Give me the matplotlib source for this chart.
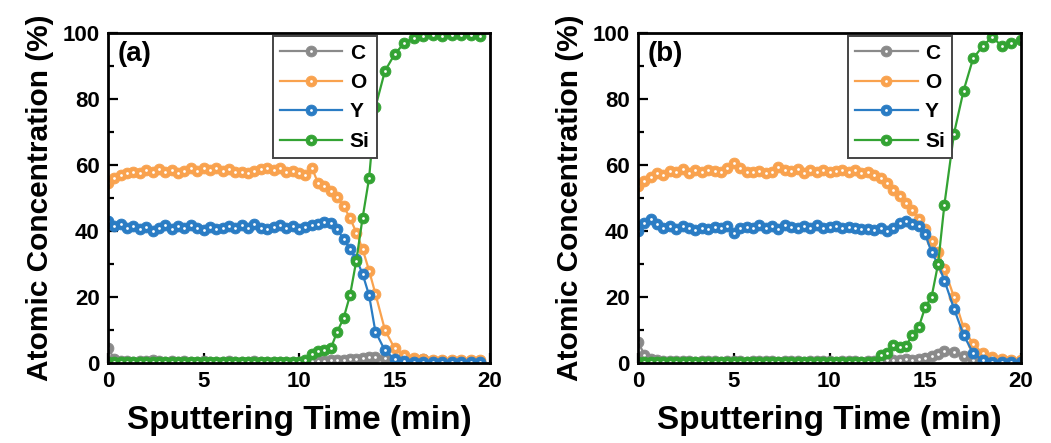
import matplotlib
matplotlib.use("Agg")
import matplotlib.pyplot as plt
from matplotlib.ticker import MultipleLocator

plt.rcParams["font.family"] = ["Liberation Sans", "DejaVu Sans"]
plt.rcParams["font.weight"] = "bold"

# ---- panel (a) ----
time_a = [0, 0.33, 0.67, 1, 1.33, 1.67, 2, 2.33, 2.67, 3, 3.33, 3.67, 4, 4.33, 4.67,
          5, 5.33, 5.67, 6, 6.33, 6.67, 7, 7.33, 7.67, 8, 8.33, 8.67, 9, 9.33, 9.67,
          10, 10.33, 10.67, 11, 11.33, 11.67, 12, 12.33, 12.67, 13, 13.33, 13.67, 14,
          14.5, 15, 15.5, 16, 16.5, 17, 17.5, 18, 18.5, 19, 19.5]
c_a = [4.5, 1.2, 0.6, 0.5, 0.4, 0.5, 0.6, 1.0, 0.5, 0.4, 0.5, 0.4, 0.5, 0.3, 0.4,
       0.5, 0.4, 0.3, 0.4, 0.5, 0.4, 0.3, 0.4, 0.5, 0.4, 0.3, 0.4, 0.4, 0.3, 0.4,
       0.3, 0.4, 0.5, 0.5, 0.6, 0.8, 0.9, 1.0, 1.2, 1.3, 1.5, 1.7, 1.8,
       1.4, 1.0, 0.7, 0.6, 1.2, 0.6, 0.5, 0.4, 0.3, 0.3, 0.3]
o_a = [54.5, 56.0, 57.0, 57.5, 58.0, 57.5, 58.5, 58.0, 58.8, 57.8, 58.5, 57.5, 58.2, 59.0, 58.3,
       59.2, 58.5, 59.0, 58.2, 58.8, 57.8, 58.0, 57.5, 58.2, 58.8, 59.2, 58.5, 59.0, 58.0, 58.2,
       57.5, 57.0, 59.2, 54.5, 53.5, 52.0, 50.2, 47.5, 44.0, 39.5, 34.5, 28.0, 21.0,
       10.0, 4.5, 2.3, 1.6, 1.2, 1.0, 0.9, 0.8, 0.8, 0.8, 0.8]
y_a = [43.0, 41.5, 42.0, 40.8, 41.5, 40.5, 41.2, 40.0, 41.0, 41.8, 40.5, 41.5, 40.8, 41.8, 41.0,
       40.3, 41.2, 40.5, 41.0, 41.5, 41.0, 41.8, 40.8, 42.0, 41.0, 40.5, 41.2, 41.8, 41.0, 41.5,
       40.5, 41.2, 41.8, 42.0, 42.8, 42.5, 40.5, 37.5, 34.5, 31.5, 27.0, 20.5, 9.5,
       3.8, 1.2, 0.5, 0.3, 0.3, 0.3, 0.3, 0.3, 0.3, 0.3, 0.3]
si_a = [0.2, 0.2, 0.3, 0.2, 0.2, 0.2, 0.3, 0.2, 0.2, 0.2, 0.2, 0.3, 0.2, 0.2, 0.2,
        0.2, 0.2, 0.3, 0.2, 0.2, 0.2, 0.2, 0.2, 0.3, 0.2, 0.2, 0.2, 0.2, 0.2, 0.2,
        0.3, 1.0, 2.8, 3.6, 4.0, 4.5, 9.5, 13.5, 20.5, 31.0, 44.0, 56.0, 77.5,
        88.5, 93.5, 96.9, 98.5, 99.0, 99.5, 99.2, 99.5, 99.3, 99.5, 99.0]

# ---- panel (b) ----
time_b = [0, 0.33, 0.67, 1, 1.33, 1.67, 2, 2.33, 2.67, 3, 3.33, 3.67, 4, 4.33, 4.67,
          5, 5.33, 5.67, 6, 6.33, 6.67, 7, 7.33, 7.67, 8, 8.33, 8.67, 9, 9.33, 9.67,
          10, 10.33, 10.67, 11, 11.33, 11.67, 12, 12.33, 12.67, 13, 13.33, 13.67, 14,
          14.33, 14.67, 15, 15.33, 15.67, 16,
          16.5, 17, 17.5, 18, 18.5, 19, 19.5, 20]
c_b = [6.5, 2.5, 1.2, 0.9, 0.7, 0.6, 0.5, 0.6, 0.5, 0.4, 0.5, 0.6, 0.5, 0.4, 0.5,
       0.6, 0.5, 0.4, 0.5, 0.5, 0.6, 0.5, 0.4, 0.5, 0.6, 0.5, 0.4, 0.5, 0.6, 0.5,
       0.5, 0.4, 0.5, 0.6, 0.5, 0.4, 0.5, 0.6, 0.7, 0.8, 0.9, 1.0, 1.1,
       1.0, 1.2, 1.5, 2.0, 2.8, 3.5,
       3.2, 2.0, 0.8, 0.3, 0.2, 0.2, 0.2, 0.2]
o_b = [53.5, 55.0, 56.5, 57.5, 57.0, 58.2, 58.0, 58.8, 57.5, 58.5, 58.0, 58.5, 58.2, 57.8, 59.0,
       60.5, 59.0, 58.0, 57.8, 58.2, 57.5, 58.0, 59.5, 58.5, 58.2, 58.8, 57.5, 58.5, 58.0, 58.5,
       57.8, 58.2, 58.5, 57.8, 58.5, 57.5, 57.8, 57.0, 56.0, 54.5, 52.5, 50.5, 48.5,
       46.5, 43.5, 40.5, 37.0, 33.5, 28.5,
       20.0, 10.7, 5.7, 3.0, 1.8, 1.2, 1.0, 1.0]
y_b = [40.0, 42.5, 43.5, 42.0, 41.0, 41.5, 40.5, 41.5, 41.0, 40.2, 41.0, 40.5, 41.2, 40.8, 41.5,
       39.5, 40.8, 41.2, 41.0, 41.8, 41.0, 41.5, 40.5, 41.8, 41.2, 41.0, 41.5, 41.0, 41.8, 41.0,
       41.2, 41.5, 40.8, 41.2, 41.0, 40.5, 40.5, 40.2, 40.8, 40.0, 41.0, 42.5, 43.0,
       42.0, 41.5, 39.0, 33.5, 30.0, 25.0,
       16.5, 8.5, 3.0, 0.8, 0.4, 0.3, 0.3, 0.3]
si_b = [0.3, 0.3, 0.2, 0.3, 0.3, 0.3, 0.2, 0.3, 0.3, 0.3, 0.3, 0.2, 0.3, 0.3, 0.3,
        0.3, 0.3, 0.2, 0.3, 0.3, 0.3, 0.3, 0.3, 0.2, 0.3, 0.3, 0.3, 0.3, 0.3, 0.3,
        0.2, 0.3, 0.3, 0.3, 0.3, 0.3, 0.3, 0.3, 2.5, 3.0, 5.5, 5.0, 5.2,
        8.5, 11.0, 17.0, 20.0, 30.0, 48.0,
        69.5, 82.5, 92.3, 96.0, 98.8, 96.0, 97.0, 98.0]

labels = ["C", "O", "Y", "Si"]
colors = ["#8a8a8a", "#f9a24e", "#2a7cc4", "#33a333"]


def draw_panel(ax, t, series, tag, legend_x):
    handles = []
    for vals, col in zip(series, colors):
        (ln,) = ax.plot(t, vals, "-o", color=col, lw=1.6, ms=7.8,
                        mec=col, mfc=col, mew=0.6)
        (hl,) = ax.plot(t, vals, "o", color="white", ms=2.0, mew=0)
        handles.append((ln, hl))

    ax.set_xlim(0, 20)
    ax.set_ylim(0, 100)
    ax.xaxis.set_major_locator(MultipleLocator(5))
    ax.xaxis.set_minor_locator(MultipleLocator(2.5))
    ax.yaxis.set_major_locator(MultipleLocator(20))
    ax.yaxis.set_minor_locator(MultipleLocator(10))
    ax.tick_params(which="both", direction="in", width=1.6, labelsize=16, pad=6)
    ax.tick_params(which="major", length=7)
    ax.tick_params(which="minor", length=4)
    for s in ax.spines.values():
        s.set_linewidth(2.0)

    ax.set_xlabel("Sputtering Time (min)", fontsize=24, fontweight="bold", labelpad=9)
    ax.set_ylabel("Atomic Concentration (%)", fontsize=21.5, fontweight="bold", labelpad=6)
    ax.text(0.025, 0.975, tag, transform=ax.transAxes, fontsize=20,
            fontweight="bold", va="top", ha="left")

    leg = ax.legend(handles, labels, loc="upper left", bbox_to_anchor=(legend_x, 0.99),
                    borderaxespad=0, fontsize=15, handlelength=3.0, handletextpad=0.35,
                    labelspacing=0.5, borderpad=0.35, fancybox=False,
                    framealpha=1, edgecolor="#444444")
    leg.get_frame().set_linewidth(1.4)


fig = plt.figure(figsize=(10.51, 4.43), dpi=100)
ax_a = fig.add_axes([108 / 1051, 1 - 363 / 443, 382 / 1051, 330 / 443])
ax_b = fig.add_axes([638 / 1051, 1 - 363 / 443, 383 / 1051, 330 / 443])

draw_panel(ax_a, time_a, [c_a, o_a, y_a, si_a], "(a)", 0.431)
draw_panel(ax_b, time_b, [c_b, o_b, y_b, si_b], "(b)", 0.548)

fig.savefig("out.png", dpi=100)
